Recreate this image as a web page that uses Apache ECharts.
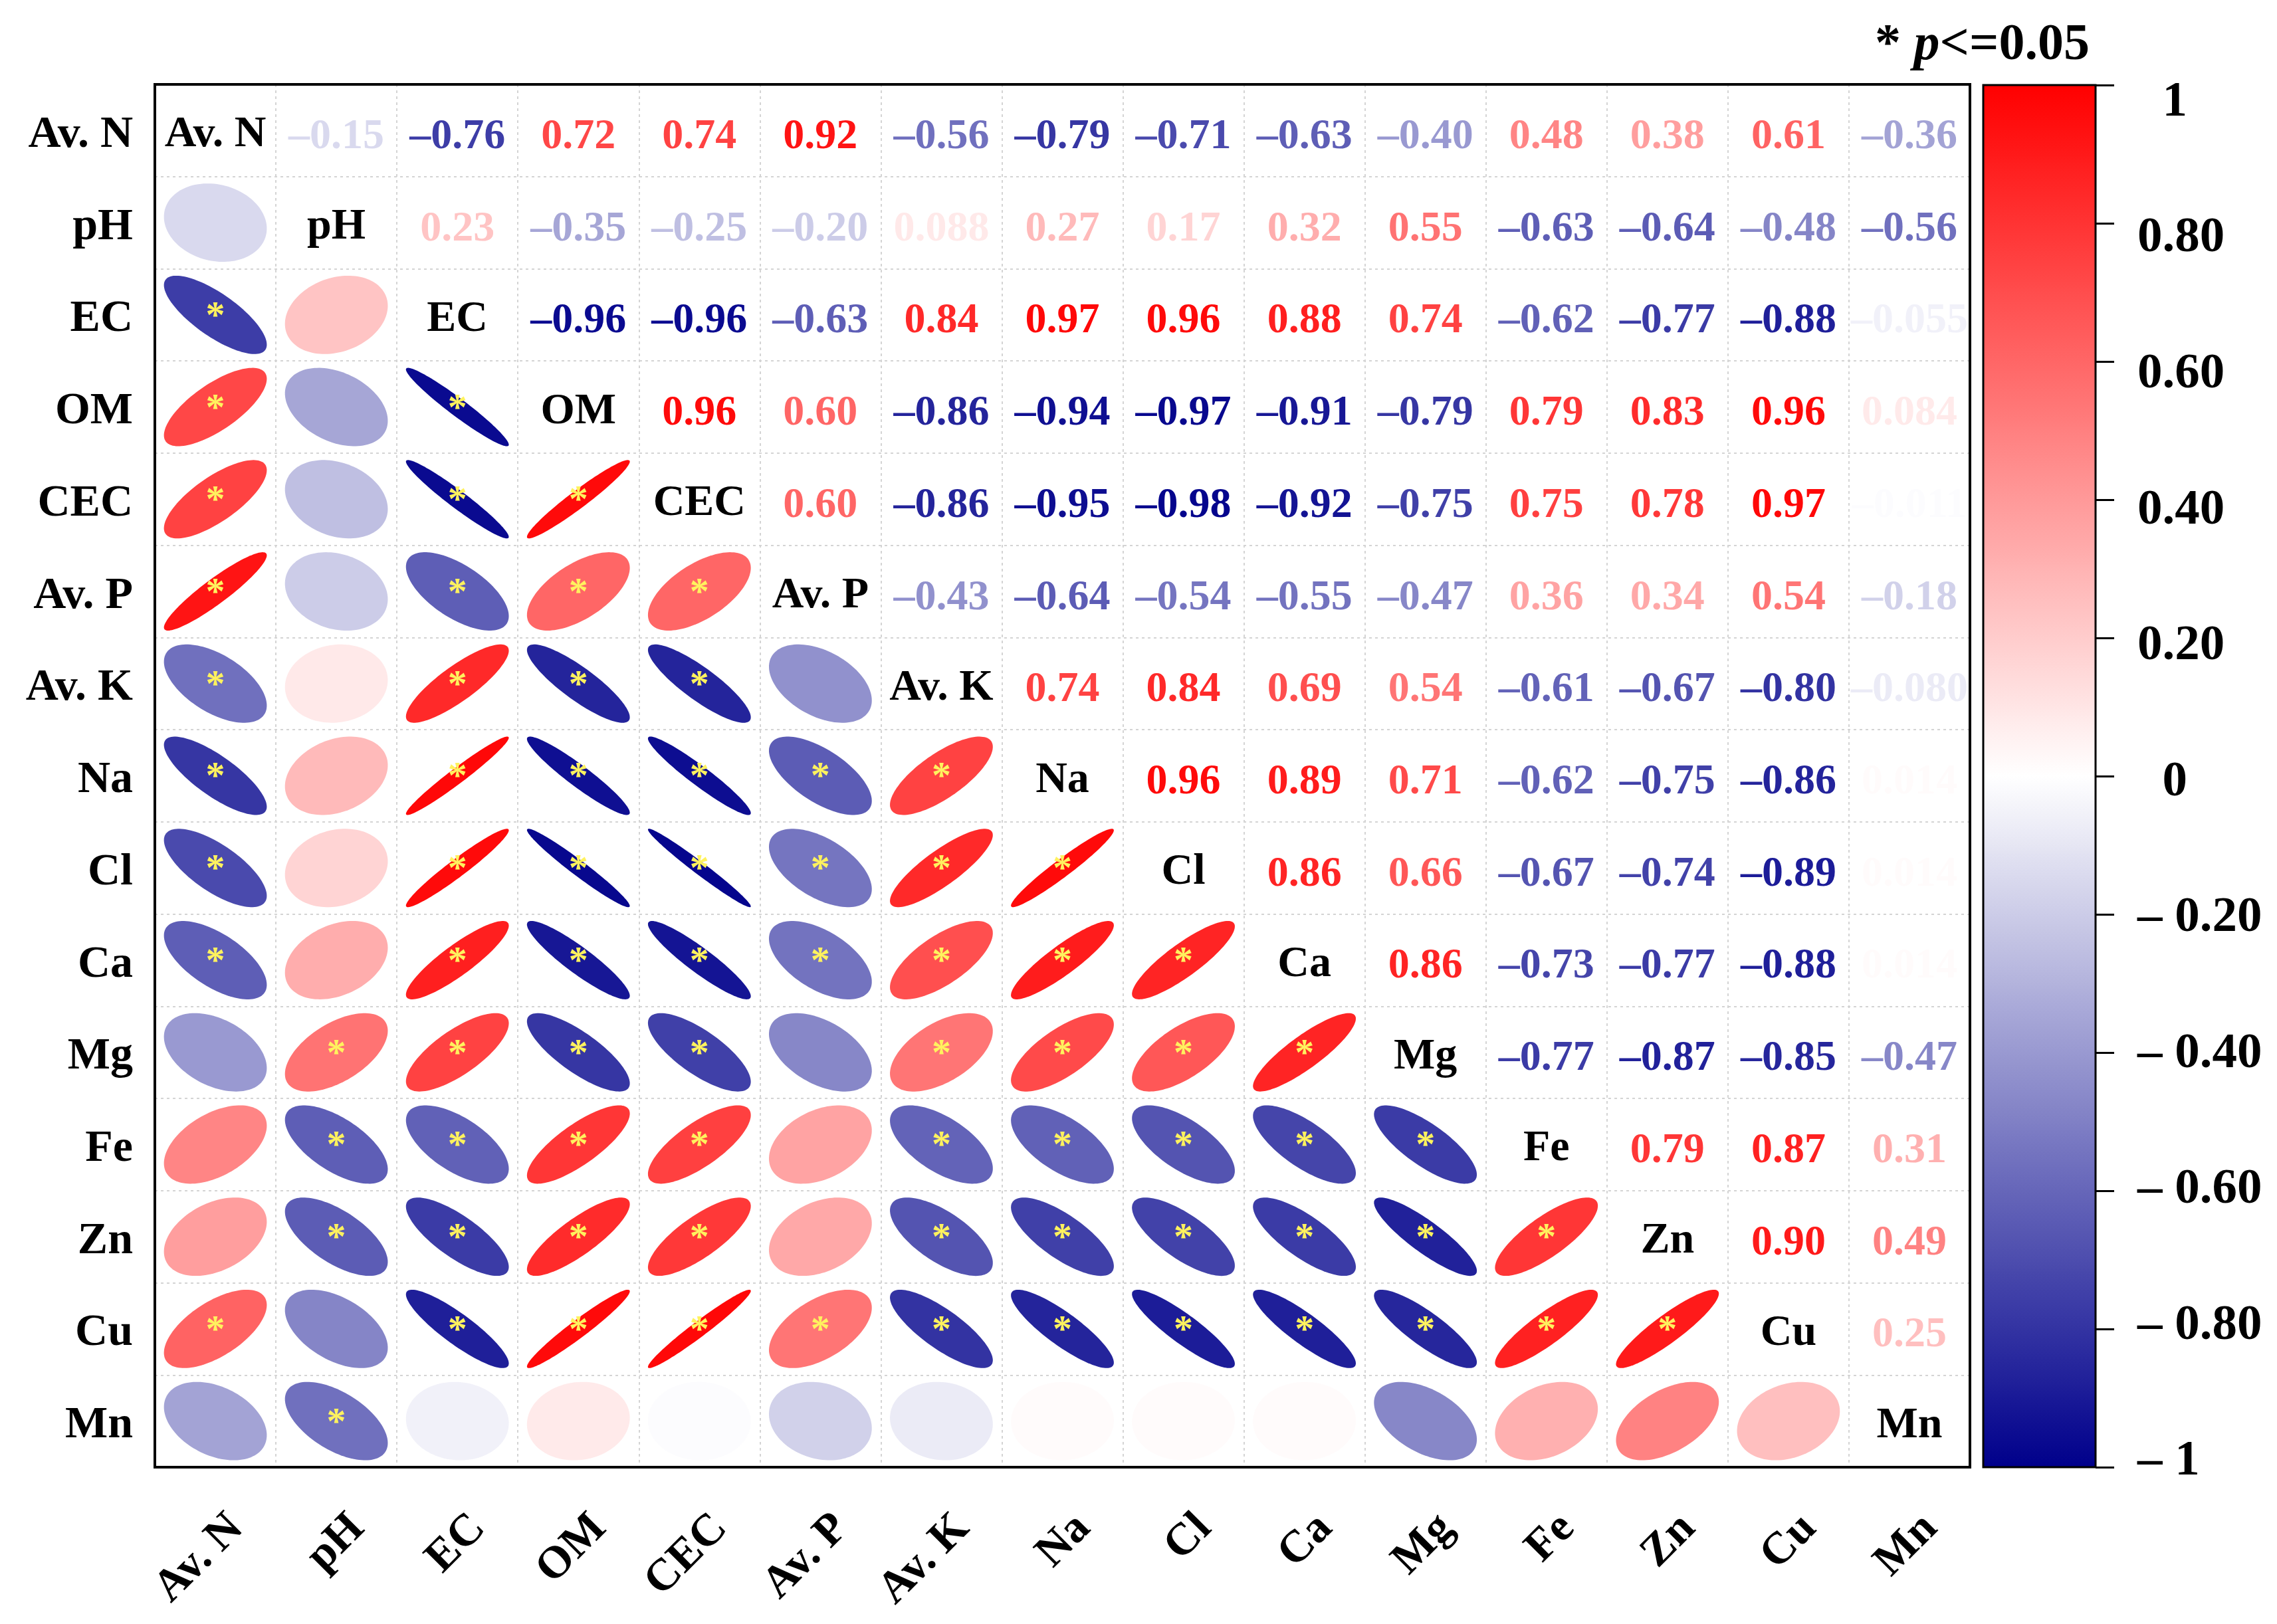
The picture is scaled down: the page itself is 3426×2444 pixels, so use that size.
<!DOCTYPE html>
<html>
<head>
<meta charset="utf-8">
<script src="https://cdn.jsdelivr.net/npm/echarts@6/dist/echarts.min.js"></script>
<style>
  html, body { margin: 0; padding: 0; background: #fff; }
  #main { width: 3426px; height: 2444px; }
</style>
</head>
<body>
<div id="main"></div>
<script>
var vars = ['Av. N', 'pH', 'EC', 'OM', 'CEC', 'Av. P', 'Av. K', 'Na', 'Cl', 'Ca', 'Mg', 'Fe', 'Zn', 'Cu', 'Mn']

// correlations of each variable with the ones after it (upper triangle, row by row)
var rAvN = [-0.15, -0.76, 0.72, 0.74, 0.92, -0.56, -0.79, -0.71, -0.63, -0.40, 0.48, 0.38, 0.61, -0.36]
var rPH = [0.23, -0.35, -0.25, -0.20, 0.088, 0.27, 0.17, 0.32, 0.55, -0.63, -0.64, -0.48, -0.56]
var rEC = [-0.96, -0.96, -0.63, 0.84, 0.97, 0.96, 0.88, 0.74, -0.62, -0.77, -0.88, -0.055]
var rOM = [0.96, 0.60, -0.86, -0.94, -0.97, -0.91, -0.79, 0.79, 0.83, 0.96, 0.084]
var rCEC = [0.60, -0.86, -0.95, -0.98, -0.92, -0.75, 0.75, 0.78, 0.97, -0.011]
var rAvP = [-0.43, -0.64, -0.54, -0.55, -0.47, 0.36, 0.34, 0.54, -0.18]
var rAvK = [0.74, 0.84, 0.69, 0.54, -0.61, -0.67, -0.80, -0.080]
var rNa = [0.96, 0.89, 0.71, -0.62, -0.75, -0.86, 0.014]
var rCl = [0.86, 0.66, -0.67, -0.74, -0.89, 0.014]
var rCa = [0.86, -0.73, -0.77, -0.88, 0.014]
var rMg = [-0.77, -0.87, -0.85, -0.47]
var rFe = [0.79, 0.87, 0.31]
var rZn = [0.90, 0.49]
var rCu = [0.25]
var upper = [rAvN, rPH, rEC, rOM, rCEC, rAvP, rAvK, rNa, rCl, rCa, rMg, rFe, rZn, rCu, []]

// p<=0.05 flags for the lower triangle, row i against columns 0..i-1
var sigPH = [0]
var sigEC = [1, 0]
var sigOM = [1, 0, 1]
var sigCEC = [1, 0, 1, 1]
var sigAvP = [1, 0, 1, 1, 1]
var sigAvK = [1, 0, 1, 1, 1, 0]
var sigNa = [1, 0, 1, 1, 1, 1, 1]
var sigCl = [1, 0, 1, 1, 1, 1, 1, 1]
var sigCa = [1, 0, 1, 1, 1, 1, 1, 1, 1]
var sigMg = [0, 1, 1, 1, 1, 0, 1, 1, 1, 1]
var sigFe = [0, 1, 1, 1, 1, 0, 1, 1, 1, 1, 1]
var sigZn = [0, 1, 1, 1, 1, 0, 1, 1, 1, 1, 1, 1]
var sigCu = [1, 0, 1, 1, 1, 1, 1, 1, 1, 1, 1, 1, 1]
var sigMn = [0, 1, 0, 0, 0, 0, 0, 0, 0, 0, 0, 0, 0, 0]
var sigLower = [[], sigPH, sigEC, sigOM, sigCEC, sigAvP, sigAvK, sigNa, sigCl, sigCa, sigMg, sigFe, sigZn, sigCu, sigMn]

// colour legend tick labels
var legendTicks = [-1, -0.8, -0.6, -0.4, -0.2, 0, 0.2, 0.4, 0.6, 0.8, 1]

var serif = '"Liberation Serif", "Times New Roman", serif'

function corr(i, j) {
  if (i == j) return 1
  var a = Math.min(i, j), b = Math.max(i, j)
  return upper[a][b - a - 1]
}

function fmt(v) {
  var a = Math.abs(v)
  var s = a < 0.1 ? a.toFixed(3) : a.toFixed(2)
  return (v < 0 ? '\u2013' : '') + s
}

var ellData = []
var numData = []
var diagData = []
for (var i = 0; i < vars.length; i++) {
  for (var j = 0; j < vars.length; j++) {
    if (i > j) ellData.push([j, i, corr(i, j), sigLower[i][j]])
    else if (i < j) numData.push([j, i, corr(i, j)])
    else diagData.push([j, i, vars[i]])
  }
}

function renderEllipse(params, api) {
  var c = api.coord([api.value(0), api.value(1)])
  var s = api.size([1, 1])
  var d = Math.acos(api.value(2))
  var pts = []
  for (var k = 0; k < 120; k++) {
    var t = 2 * Math.PI * k / 120
    pts.push([c[0] + 0.85 * s[0] * Math.cos(t + d / 2) / 2,
              c[1] - 0.85 * s[1] * Math.cos(t - d / 2) / 2])
  }
  var children = [{
    type: 'polygon',
    shape: { points: pts },
    style: { fill: api.visual('color') }
  }]
  if (api.value(3)) {
    children.push({
      type: 'text',
      x: c[0], y: c[1] + 4,
      style: { text: '*', fill: '#FFF25E', font: 'bold 58px ' + serif, align: 'center', verticalAlign: 'middle' }
    })
  }
  return { type: 'group', children: children }
}

function renderNumber(params, api) {
  var c = api.coord([api.value(0), api.value(1)])
  return {
    type: 'text',
    x: c[0], y: c[1] + 10,
    style: { text: fmt(api.value(2)), fill: api.visual('color'), font: 'bold 64px ' + serif, align: 'center', verticalAlign: 'middle' }
  }
}

function renderDiag(params, api) {
  var c = api.coord([api.value(0), api.value(1)])
  return {
    type: 'text',
    x: c[0], y: c[1] + 7,
    style: { text: vars[api.value(1)], fill: '#000', font: 'bold 66px ' + serif, align: 'center', verticalAlign: 'middle' }
  }
}

function legendLabel(v) {
  v = Math.round(v * 100) / 100
  if (v == 1 || v == 0) return '  ' + v
  if (v == -1) return '\u2013 1'
  if (v < 0) return '\u2013 ' + Math.abs(v).toFixed(2)
  return v.toFixed(2)
}

var chart = echarts.init(document.getElementById('main'), null, { width: 3426, height: 2444 })

chart.setOption({
  backgroundColor: '#fff',
  animation: false,
  title: {
    text: '{a|* }{b|p}{a|<=0.05}',
    right: 282,
    top: 30,
    padding: 0,
    textStyle: {
      rich: {
        a: { fontFamily: serif, fontWeight: 'bold', fontSize: 78, color: '#000' },
        b: { fontFamily: serif, fontWeight: 'bold', fontStyle: 'italic', fontSize: 78, color: '#000' }
      }
    }
  },
  grid: [{
    left: 233, top: 127, width: 2731, height: 2081, z: 10,
    show: true, borderColor: '#000', borderWidth: 4, backgroundColor: 'transparent'
  }, {
    left: 2984, top: 128, width: 169, height: 2080, z: 10,
    show: true, borderColor: '#000', borderWidth: 3, backgroundColor: 'transparent'
  }],
  xAxis: [{
    type: 'category',
    data: vars,
    gridIndex: 0,
    z: 0,
    axisLine: { show: false },
    axisTick: { show: false },
    splitLine: { show: true, interval: 0, lineStyle: { color: '#d4d4d4', width: 2, type: [4, 5] } },
    axisLabel: {
      interval: 0, rotate: 45, margin: 50,
      verticalAlign: 'top', lineHeight: 90,
      fontFamily: serif, fontWeight: 'bold', fontSize: 68, color: '#000'
    }
  }, {
    type: 'value', gridIndex: 1, min: 0, max: 1, show: false
  }],
  yAxis: [{
    type: 'category',
    data: vars,
    inverse: true,
    gridIndex: 0,
    z: 0,
    axisLine: { show: false },
    axisTick: { show: false },
    splitLine: { show: true, interval: 0, lineStyle: { color: '#d4d4d4', width: 2, type: [4, 5] } },
    axisLabel: {
      interval: 0, margin: 33,
      verticalAlign: 'top', lineHeight: 14,
      fontFamily: serif, fontWeight: 'bold', fontSize: 68, color: '#000'
    }
  }, {
    // legend ticks
    type: 'value', gridIndex: 1, position: 'right', z: 10,
    min: -1, max: 1, interval: 0.2,
    axisLine: { show: false, onZero: false },
    splitLine: { show: false },
    axisTick: { show: true, inside: false, length: 28, lineStyle: { color: '#000', width: 3 } },
    axisLabel: { show: false }
  }, {
    // legend labels, set a little tighter than the ticks as in the original
    type: 'value', gridIndex: 1, position: 'right', z: 10,
    min: -1.008, max: 1.026,
    axisLine: { show: false, onZero: false },
    splitLine: { show: false },
    axisTick: { show: false },
    axisLabel: {
      margin: 63, align: 'left',
      customValues: legendTicks,
      fontFamily: serif, fontWeight: 'bold', fontSize: 75, color: '#000',
      formatter: legendLabel
    }
  }],
  visualMap: {
    type: 'continuous',
    min: -1, max: 1,
    dimension: 2,
    seriesIndex: [0, 1],
    calculable: false,
    hoverLink: false,
    orient: 'vertical',
    left: 2984, top: 128,
    itemWidth: 169, itemHeight: 2080,
    padding: 0,
    text: null,
    inRange: { color: ['#00008B', '#FFFFFF', '#FF0000'] }
  },
  series: [{
    type: 'custom',
    name: 'ellipse',
    renderItem: renderEllipse,
    data: ellData,
    z: 3
  }, {
    type: 'custom',
    name: 'number',
    renderItem: renderNumber,
    data: numData,
    z: 3
  }, {
    type: 'custom',
    name: 'diag',
    renderItem: renderDiag,
    data: diagData,
    z: 3
  }]
})
</script>
</body>
</html>
